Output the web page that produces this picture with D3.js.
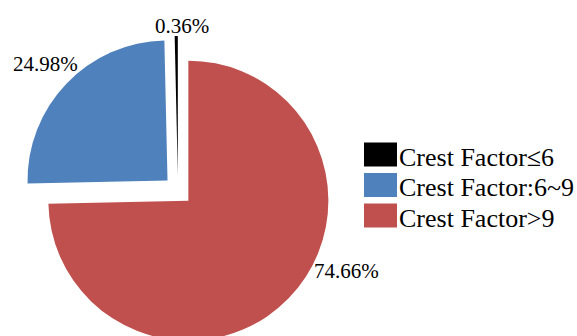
<!DOCTYPE html>
<html>
<head>
<meta charset="utf-8">
<script src="https://cdn.jsdelivr.net/npm/d3@7"></script>
<style>
  html, body { margin: 0; padding: 0; background: #fff; }
  svg { display: block; }
  text { font-family: "Liberation Serif", "Times New Roman", serif; fill: #000; }
</style>
</head>
<body>
<svg id="chart" width="577" height="336"></svg>
<script>
// Share of samples by crest factor band (percent)
const categories = ["Crest Factor≤6", "Crest Factor:6~9", "Crest Factor>9"];
const values = [0.36, 24.98, 74.66];
const colors = ["#000000", "#4F81BD", "#C0504D"];

const width = 577, height = 336;
const svg = d3.select("#chart");

const cx = 178, cy = 190.5;   // pie centre
const radius = 140;
const explode = 14.5;         // every slice is pulled out by this much

// Slices run clockwise from 12 o'clock: largest band first, smallest last
const order = [2, 1, 0];
const pie = d3.pie()
  .sort(null)
  .value(i => values[i])
  .startAngle(0)
  .endAngle(2 * Math.PI);
const arcs = pie(order);

const arc = d3.arc().innerRadius(0).outerRadius(radius);
const polar = (a, r) => [r * Math.sin(a), -r * Math.cos(a)];

// Label placement: distance from slice apex and angle shift from the slice middle
const labelLayout = {
  0: { dist: 151, shift: 0.04 },
  1: { dist: 169, shift: 0 },
  2: { dist: 173, shift: -0.357 }
};

const g = svg.append("g").attr("transform", `translate(${cx},${cy})`);

const slice = g.selectAll("g.slice")
  .data(arcs)
  .join("g")
  .attr("class", "slice")
  .attr("transform", d => {
    const mid = (d.startAngle + d.endAngle) / 2;
    const [dx, dy] = polar(mid, explode);
    return `translate(${dx},${dy})`;
  });

slice.append("path")
  .attr("d", arc)
  .attr("fill", d => colors[d.data]);

slice.append("text")
  .attr("text-anchor", "middle")
  .attr("font-size", 21)
  .attr("transform", d => {
    const L = labelLayout[d.data];
    const mid = (d.startAngle + d.endAngle) / 2 + L.shift;
    const [x, y] = polar(mid, L.dist);
    return `translate(${x},${y + 7.5})`;
  })
  .text(d => values[d.data].toFixed(2) + "%");

// Legend
const legend = svg.append("g").attr("transform", "translate(364,142.5)");
const rowH = 30.5;
const item = legend.selectAll("g.item")
  .data(categories.map((c, i) => i))
  .join("g")
  .attr("class", "item")
  .attr("transform", i => `translate(0,${i * rowH})`);

item.append("rect")
  .attr("width", 33)
  .attr("height", 24)
  .attr("fill", i => colors[i]);

item.append("text")
  .attr("x", 35)
  .attr("y", 23)
  .attr("font-size", 26)
  .text(i => categories[i]);
</script>
</body>
</html>
